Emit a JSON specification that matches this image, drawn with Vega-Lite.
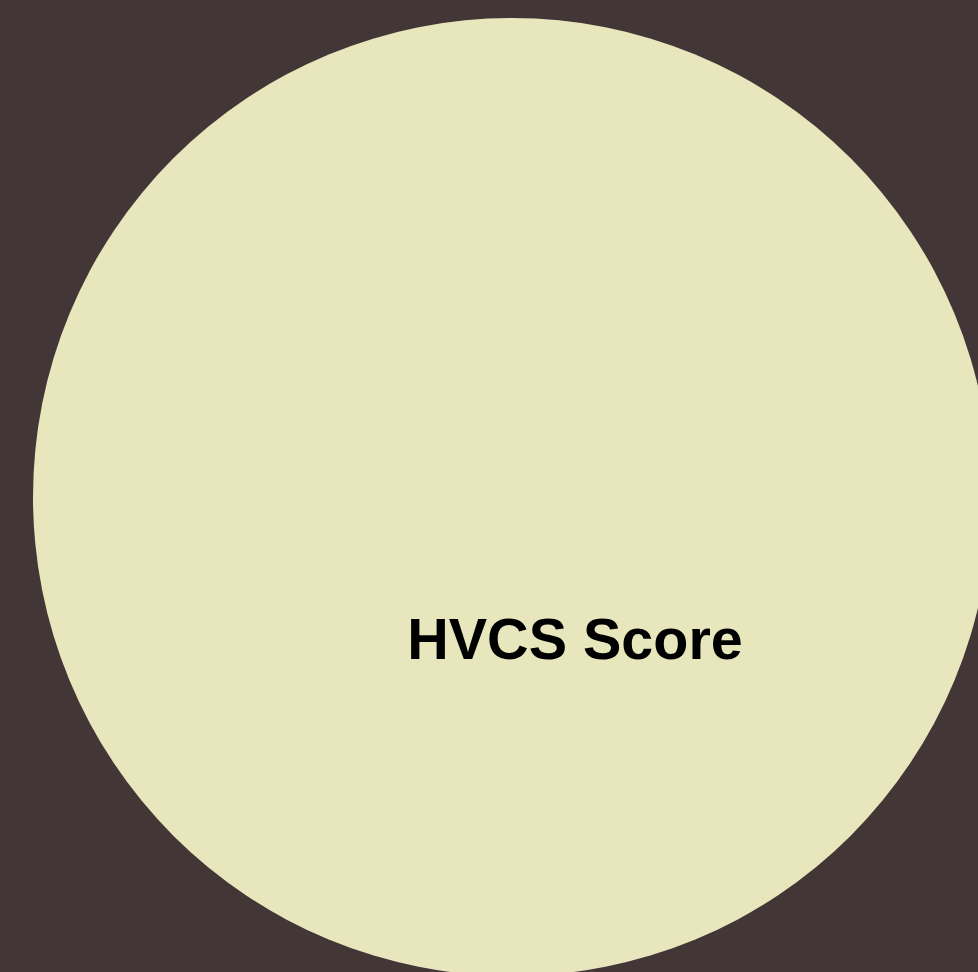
{
  "$schema": "https://vega.github.io/schema/vega-lite/v6.json",
  "width": 932,
  "height": 950,
  "autosize": {"type": "none"},
  "padding": {"left": 46, "top": 22, "right": 0, "bottom": 0},
  "background": "#433637",
  "config": {"view": {"stroke": null}},
  "data": {"values": [{"label": "HVCS Score", "value": 1}]},
  "layer": [
    {
      "mark": {"type": "arc", "radius": 479, "fill": "#E8E6BC", "stroke": null},
      "encoding": {"theta": {"field": "value", "type": "quantitative"}}
    },
    {
      "mark": {"type": "text", "radius": 0, "dx": 63, "dy": 145, "font": "Liberation Sans", "fontWeight": "bold", "fontSize": 57.5, "color": "#000000", "align": "center", "baseline": "middle"},
      "encoding": {
        "theta": {"field": "value", "type": "quantitative"},
        "text": {"field": "label", "type": "nominal"}
      }
    }
  ]
}
